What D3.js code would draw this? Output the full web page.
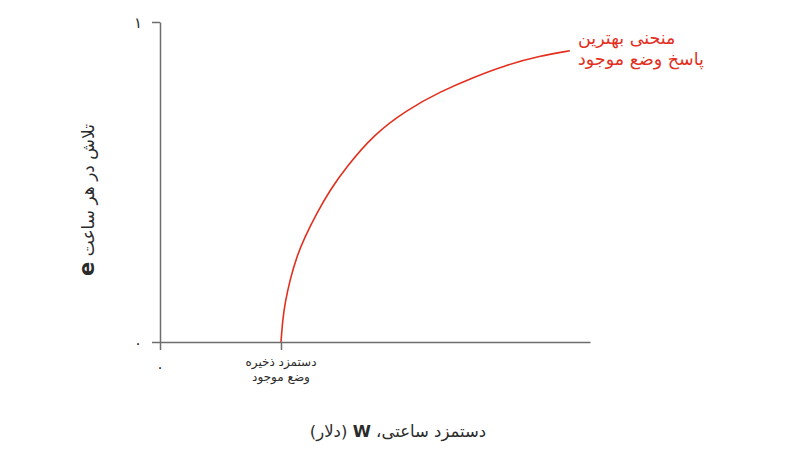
<!DOCTYPE html>
<html>
<head>
<meta charset="utf-8">
<script src="https://cdn.jsdelivr.net/npm/d3@7"></script>
<style>
  body { margin: 0; background: #fff; }
  text { font-family: "DejaVu Sans", sans-serif; }
</style>
</head>
<body>
<div id="chart"></div>
<script>
// wage (dollars) and effort per hour along the best response curve
var wageValues = [10, 10.14, 10.33, 10.74, 11.3, 11.98, 12.95, 14.05, 15.43,
                  17.63, 20.39, 23.14, 25.89, 28.65, 31.4, 33.88];
var effortValues = [0, 0.069, 0.121, 0.194, 0.267, 0.329, 0.402, 0.475, 0.548,
                    0.647, 0.725, 0.782, 0.827, 0.866, 0.894, 0.91];
var reservationWage = 10;
var xTickValues = [0, reservationWage];
var yTickValues = [0, 1];
var yTickLabels = ["۰", "۱"];
var reservationLabel = ["دستمزد ذخیره", "وضع موجود"];
var curveLabel = ["منحنی بهترین", "پاسخ وضع موجود"];

var width = 809, height = 471;
var axisColor = "#6d6d6d", red = "#e3301e", textColor = "#2b2b2b";

var x = d3.scaleLinear().domain([0, 35.54]).range([160, 590]);
var y = d3.scaleLinear().domain([0, 1]).range([342, 22]);

var svg = d3.select("#chart").append("svg")
    .attr("width", width)
    .attr("height", height);

// axes
var xAxis = svg.append("g")
    .attr("transform", "translate(0," + y(0) + ")")
    .call(d3.axisBottom(x).tickValues(xTickValues).tickSize(8).tickSizeOuter(0).tickFormat(""));
var yAxis = svg.append("g")
    .attr("transform", "translate(" + x(0) + ",0)")
    .call(d3.axisLeft(y).tickValues(yTickValues).tickSize(8).tickSizeOuter(0).tickFormat(""));

[xAxis, yAxis].forEach(function (a) {
    a.selectAll("path, line")
        .attr("stroke", axisColor)
        .attr("stroke-width", 1.5);
});

// tick labels
svg.selectAll(".ylab")
    .data(yTickValues)
    .enter().append("text")
    .attr("x", x(0) - 22)
    .attr("y", function (d) { return y(d) + 6; })
    .attr("text-anchor", "middle")
    .attr("font-size", 15)
    .attr("fill", textColor)
    .text(function (d, i) { return yTickLabels[i]; });

svg.append("text")
    .attr("x", x(0))
    .attr("y", y(0) + 30)
    .attr("text-anchor", "middle")
    .attr("font-size", 15)
    .attr("fill", textColor)
    .text("۰");

svg.selectAll(".rlab")
    .data(reservationLabel)
    .enter().append("text")
    .attr("x", x(reservationWage))
    .attr("y", function (d, i) { return y(0) + 24 + i * 15; })
    .attr("text-anchor", "middle")
    .attr("direction", "rtl")
    .attr("font-size", 12)
    .attr("fill", textColor)
    .text(function (d) { return d; });

// best response curve (b-spline smooths small reading errors)
var line = d3.line()
    .x(function (d, i) { return x(wageValues[i]); })
    .y(function (d) { return y(d); })
    .curve(d3.curveBasis);

svg.append("path")
    .datum(effortValues)
    .attr("d", line)
    .attr("fill", "none")
    .attr("stroke", red)
    .attr("stroke-width", 1.6);

svg.selectAll(".clab")
    .data(curveLabel)
    .enter().append("text")
    .attr("x", 578)
    .attr("y", function (d, i) { return 44 + i * 21; })
    .attr("text-anchor", "end")
    .attr("direction", "rtl")
    .attr("font-size", 17.5)
    .attr("fill", red)
    .text(function (d) { return d; });

// axis titles
var xTitle = svg.append("text")
    .attr("x", 398)
    .attr("y", 437)
    .attr("text-anchor", "middle")
    .attr("direction", "rtl")
    .attr("font-size", 16.5)
    .attr("fill", textColor);
xTitle.append("tspan").text("دستمزد ساعتی، ");
xTitle.append("tspan").attr("font-weight", "bold").text("W");
xTitle.append("tspan").text(" (دلار)");

var yTitle = svg.append("text")
    .attr("transform", "translate(94,200) rotate(-90)")
    .attr("text-anchor", "middle")
    .attr("direction", "rtl")
    .attr("font-size", 17)
    .attr("fill", textColor);
yTitle.append("tspan").text("تلاش در هر ساعت ");
yTitle.append("tspan").attr("font-weight", "bold").attr("font-size", 21).text("e");
</script>
</body>
</html>
